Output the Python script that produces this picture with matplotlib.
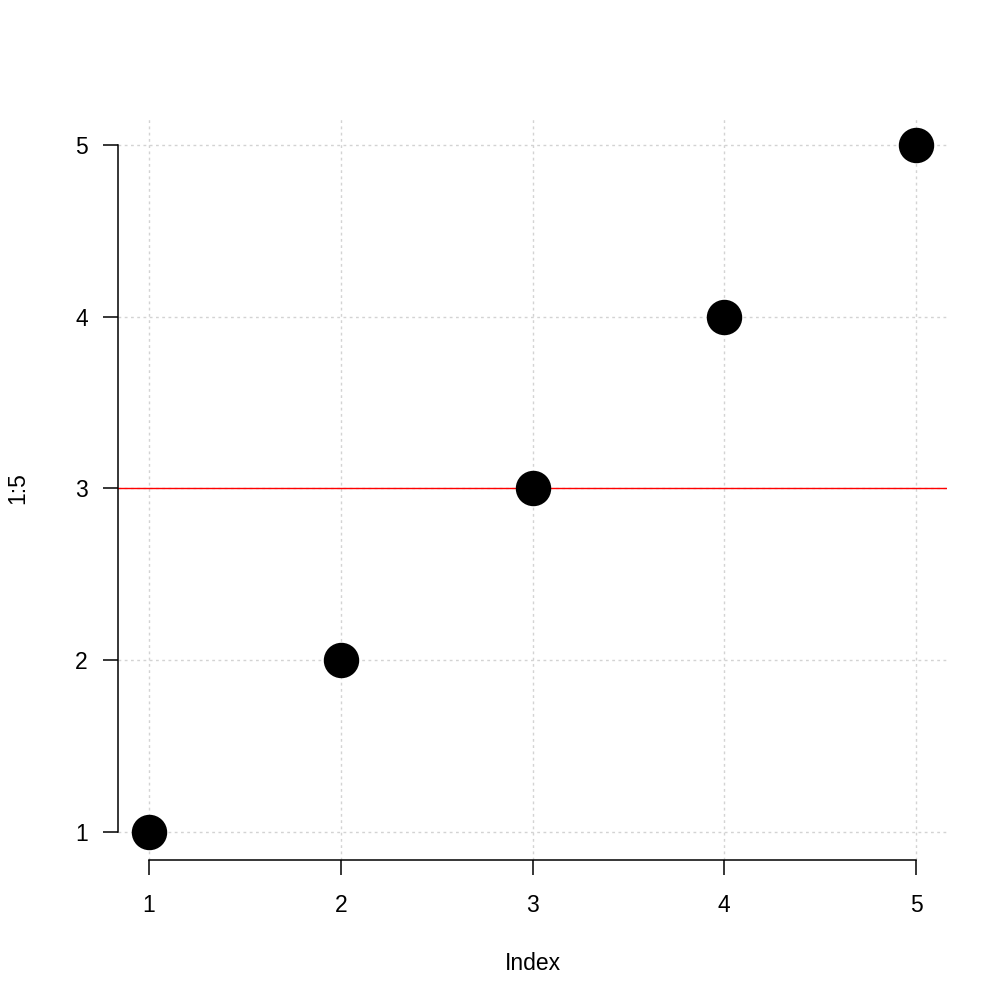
import matplotlib
matplotlib.use("Agg")
import matplotlib.pyplot as plt

# data: plot(1:5) style
index = [1, 2, 3, 4, 5]
values = [1, 2, 3, 4, 5]
ticks = [1, 2, 3, 4, 5]
hline_y = 3

plt.rcParams['font.family'] = ['Liberation Sans', 'DejaVu Sans']

fig = plt.figure(figsize=(10.08, 10.08), dpi=100)
W = H = 1008
# plot region in pixels (R default margins)
left, right, top, bottom = 118.3, 946.7, 117.5, 859.5
ax = fig.add_axes([left / W, 1 - bottom / H, (right - left) / W, (bottom - top) / H])

ax.set_xlim(0.84, 5.16)
ax.set_ylim(0.84, 5.16)

# dotted grid
for t in ticks:
    ax.axvline(t, color='#D3D3D3', lw=1.0, ls=(0, (2, 2.5)), zorder=1)
    ax.axhline(t, color='#D3D3D3', lw=1.0, ls=(0, (2, 2.5)), zorder=1)

ax.axhline(hline_y, color='red', lw=1.0, zorder=2)

ax.plot(index, values, 'o', color='black', markersize=24.5, zorder=3, clip_on=False)

# R-style axes: lines only between first and last tick
ax.spines['top'].set_visible(False)
ax.spines['right'].set_visible(False)
ax.spines['left'].set_bounds(ticks[0], ticks[-1])
ax.spines['bottom'].set_bounds(ticks[0], ticks[-1])
for s in ['left', 'bottom']:
    ax.spines[s].set_linewidth(1.1)

ax.set_xticks(ticks)
ax.set_yticks(ticks)
ax.tick_params(axis='both', direction='out', length=11, width=1.1, labelsize=16.5)
ax.tick_params(axis='x', pad=14)
ax.tick_params(axis='y', pad=11)

ax.set_xlabel('Index', fontsize=16.5, va='center')
ax.set_ylabel('1:5', fontsize=16.5, va='center')
ax.xaxis.set_label_coords(0.5, (bottom - 963) / (bottom - top))
ax.yaxis.set_label_coords((18 - left) / (right - left), 0.5)

fig.savefig('out.png', dpi=100)
